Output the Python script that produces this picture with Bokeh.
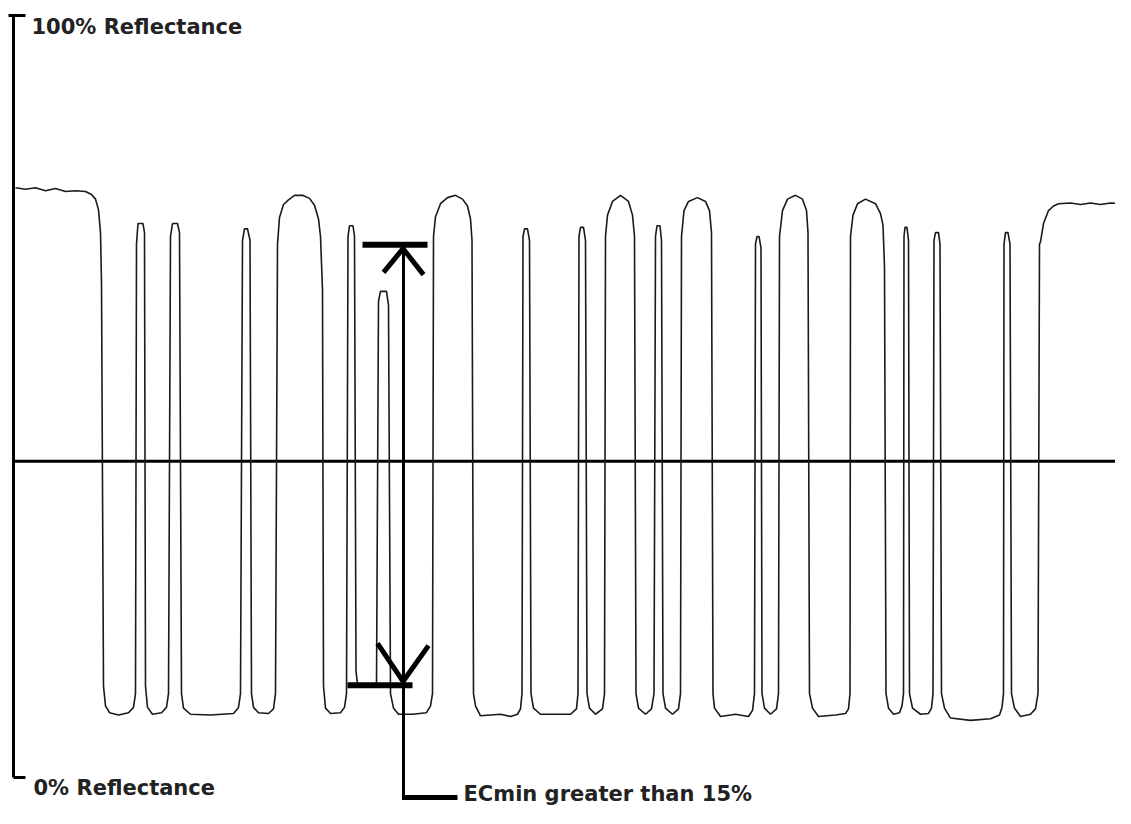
from bokeh.plotting import figure
from bokeh.models import Range1d
from bokeh.core.properties import value
from bokeh.embed import file_html
from bokeh.resources import INLINE

# ---- data (scan position, reflectance %) ----
scan_pos = [
    15, 25, 35, 45, 55, 65, 75, 85, 91, 95, 98, 100, 101, 103, 105, 109, 118, 128, 133, 135,
    136, 137.5, 142.5, 144, 145, 147, 152, 161, 166, 168,
    170, 172, 177, 179, 181, 183, 190, 210, 233, 238, 240,
    242, 244, 247, 249.5, 251, 253, 258, 268, 273, 275,
    277, 279, 283, 288, 294, 302, 309, 314, 318, 320, 322, 323, 325, 330, 340, 344, 346,
    347.5, 349, 352.5, 354, 355.5, 357, 366, 376,
    378, 380, 386, 388, 390, 393, 398, 412, 426, 430, 432,
    433, 435, 440, 447, 455, 462, 467, 470, 471.5, 473, 475, 480, 500, 510, 517, 520, 521.5,
    522.5, 524, 527, 529, 530.5, 533, 540, 570, 576, 577.5,
    578.5, 580, 583, 585, 586.5, 589, 595, 602, 604,
    605, 607, 612, 620, 628, 632, 634, 635.5, 638, 645, 651, 653.5,
    655, 656.5, 659.5, 661, 662.5, 665, 672, 678, 680,
    681, 683.5, 688, 697, 705, 709, 711, 712.5, 714, 720, 735, 748, 752, 754,
    755, 756.5, 758.5, 760.5, 761.5, 764, 770, 776, 778,
    779, 782, 787, 795, 802, 806, 807.5, 809, 812, 818, 835, 845, 848, 849.5,
    850, 852.5, 857, 865, 875, 880, 882.5, 884, 885.5, 888, 893, 899, 901.5, 903,
    903.5, 904.5, 906.5, 908, 909, 912, 920, 928, 931, 932.5,
    933.5, 935, 938, 939.5, 941, 944, 950, 970, 990, 999, 1001.5, 1003,
    1003.5, 1005, 1007.5, 1009.5, 1011, 1014, 1020, 1030, 1035, 1037.5,
    1039, 1040, 1043, 1048, 1053, 1058, 1070, 1080, 1090, 1100, 1110, 1120,
]
reflectance = [
    77.4, 77.2, 77.4, 77.0, 77.3, 76.9, 77.0, 76.9, 76.5, 75.9, 74.5, 71.5, 65.0, 12.0, 9.4, 8.5, 8.2, 8.5, 9.2, 11.0,
    70.0, 72.7, 72.7, 71.5, 12.0, 9.2, 8.3, 8.5, 9.2, 11.0,
    71.0, 72.7, 72.7, 71.5, 11.0, 9.1, 8.3, 8.2, 8.4, 9.2, 11.0,
    70.5, 72.0, 72.0, 70.5, 11.0, 9.2, 8.5, 8.4, 9.0, 11.0,
    70.0, 73.5, 75.2, 75.8, 76.4, 76.4, 76.0, 75.1, 73.3, 71.0, 64.0, 12.0, 9.1, 8.4, 8.5, 9.2, 11.0,
    71.0, 72.4, 72.4, 71.0, 14.0, 12.2, 11.9, 12.2,
    62.5, 63.8, 63.8, 62.0, 11.0, 9.1, 8.3, 8.3, 8.5, 9.4, 11.0,
    71.0, 73.6, 75.3, 76.1, 76.4, 75.9, 75.0, 73.3, 70.5, 11.0, 9.4, 8.1, 8.3, 8.0, 8.3, 9.0, 11.0,
    71.0, 72.0, 72.0, 70.5, 11.0, 9.1, 8.3, 8.3, 9.0, 11.0,
    71.0, 72.2, 72.2, 70.5, 11.0, 9.1, 8.3, 9.0, 11.0,
    71.0, 73.8, 75.6, 76.4, 75.6, 73.8, 71.0, 11.0, 9.1, 8.3, 9.0, 11.0,
    71.0, 72.4, 72.4, 70.5, 11.0, 9.1, 8.3, 9.0, 11.0,
    71.0, 74.4, 75.6, 76.1, 75.6, 74.4, 71.5, 11.0, 9.1, 8.0, 8.3, 8.0, 8.8, 11.0,
    70.0, 71.0, 71.0, 69.5, 11.0, 9.1, 8.3, 9.0, 11.0,
    71.0, 74.4, 75.9, 76.4, 75.9, 74.4, 71.5, 11.0, 9.1, 8.0, 8.2, 8.4, 9.0, 11.0,
    71.0, 73.8, 75.3, 75.9, 75.3, 74.0, 72.5, 67.0, 11.0, 9.1, 8.3, 8.5, 9.4, 11.0,
    71.0, 72.2, 72.2, 70.5, 11.0, 9.1, 8.3, 8.4, 9.1, 11.0,
    70.5, 71.5, 71.5, 70.0, 11.0, 9.1, 7.8, 7.5, 7.7, 8.2, 9.2, 11.0,
    70.0, 71.5, 71.5, 70.0, 11.0, 9.1, 8.0, 8.3, 9.0, 11.0,
    70.0, 70.3, 72.7, 74.4, 75.0, 75.3, 75.4, 75.2, 75.4, 75.2, 75.4, 75.3,
]

threshold = 41.5           # global threshold (%)
ec_space_max = 69.9        # ECmin marker: top of narrow space
ec_bar_min = 12.1          # ECmin marker: bottom of narrow bar
axis_min, axis_max = 0, 100
axis_labels = ["100% Reflectance", "0% Reflectance"]
ec_label = "ECmin greater than 15%"

FONT = value("DejaVu Sans")

p = figure(width=1115, height=808,
           x_range=Range1d(0, 1115), y_range=Range1d(-4.07, 101.97),
           output_backend="svg", toolbar_location=None, min_border=0)
p.axis.visible = False
p.grid.visible = False
p.outline_line_color = None
p.background_fill_color = "white"
p.border_fill_color = "white"

# reflectance axis (spine + end ticks)
p.segment(x0=[13], y0=[axis_min], x1=[13], y1=[axis_max], line_color="black", line_width=3)
p.segment(x0=[8, 13], y0=[axis_max, axis_min], x1=[25, 25], y1=[axis_max, axis_min],
          line_color="black", line_width=3)
p.text(x=[31, 33], y=[axis_max - 1.57, axis_min - 1.44], text=axis_labels,
       text_font=FONT, text_font_style="bold", text_font_size="21px",
       text_color="#222222", text_baseline="alphabetic", text_align="left")

# threshold line
p.segment(x0=[13], y0=[threshold], x1=[1128], y1=[threshold], line_color="black", line_width=3)

# scan reflectance profile
p.line(scan_pos, reflectance, line_color="#1a1a1a", line_width=1.6)

# ECmin annotation
p.segment(x0=[362, 347], y0=[ec_space_max, ec_bar_min], x1=[427, 412], y1=[ec_space_max, ec_bar_min],
          line_color="black", line_width=6)
p.segment(x0=[403], y0=[ec_space_max], x1=[403], y1=[-2.62], line_color="black", line_width=3)
p.segment(x0=[401.5], y0=[-2.62], x1=[457], y1=[-2.62], line_color="black", line_width=5)
p.line([383, 402.5, 423], [66.3, 69.4, 66.0], line_color="black", line_width=5)
p.line([377, 402.5, 428], [17.6, 12.6, 17.3], line_color="black", line_width=5)
p.text(x=[463], y=[-2.2], text=[ec_label],
       text_font=FONT, text_font_style="bold", text_font_size="21px",
       text_color="#222222", text_baseline="alphabetic", text_align="left")

open("out.html", "w").write(file_html(p, INLINE))
